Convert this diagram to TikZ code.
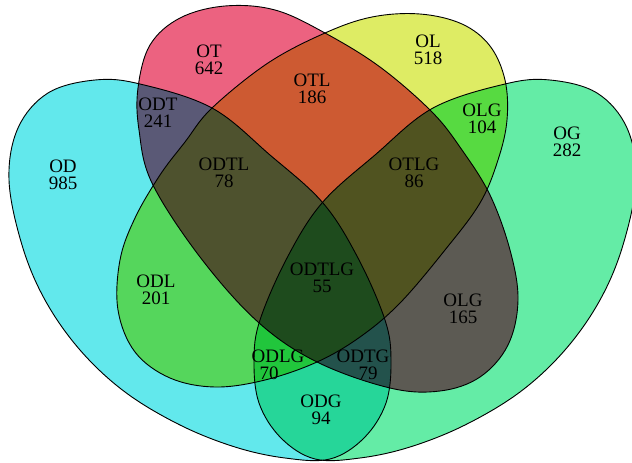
\documentclass[tikz,border=0pt]{standalone}
\usepackage{fontspec}
\setmainfont{Liberation Serif}
\definecolor{ODcol}{RGB}{98,232,236}
\definecolor{OTcol}{RGB}{236,98,128}
\definecolor{OLcol}{RGB}{222,236,100}
\definecolor{OGcol}{RGB}{100,236,166}
\tikzset{
  vshape/.style={draw=black, line width=0.9pt},
  lbl/.style={font=\fontsize{19}{17}\selectfont, align=center, inner sep=0pt, text=black}
}
\begin{document}
\begin{tikzpicture}[x=1pt,y=-1pt]
\useasboundingbox (0,0) rectangle (632,463);
\fill[white] (0,0) rectangle (632,463);
\clip (0,0) rectangle (632,463);
\begin{scope}[blend group=multiply]
% D (cyan)
\filldraw[vshape, fill=ODcol] plot[smooth cycle, tension=0.6] coordinates {
 (9,180) (18,128) (48,93) (95,80) (140,84) (212,108) (270,155) (323,203)
 (358,258) (385,320) (391,360) (386,403) (364,438) (330,459) (285,458) (235,447)
 (180,425) (125,392) (80,350) (45,300) (22,245)};
% G (mint)
\filldraw[vshape, fill=OGcol] plot[smooth cycle, tension=0.6] coordinates {
 (636,180) (627,128) (597,93) (550,80) (505,84) (433,108) (375,155) (322,203)
 (287,258) (260,320) (254,360) (259,403) (281,438) (315,459) (360,458) (410,447)
 (465,425) (520,392) (565,350) (600,300) (623,245)};
% T (pink)
\filldraw[vshape, fill=OTcol] plot[smooth cycle, tension=0.6] coordinates {
 (138,88) (150,45) (180,18) (225,6) (275,10) (325,33) (380,67) (432,112)
 (462,150) (490,195) (510,250) (518,300) (508,345) (480,377) (440,391) (390,388)
 (317,362) (258,322) (200,257) (152,183) (139,130)};
% L (yellow)
\filldraw[vshape, fill=OLcol] plot[smooth cycle, tension=0.6] coordinates {
 (325,33) (372,17) (420,14) (462,24) (490,46) (505,80) (507,120) (498,160)
 (480,203) (445,250) (400,303) (360,337) (317,362) (265,380) (215,387) (170,378)
 (135,352) (118,310) (120,260) (135,218) (160,175) (185,142) (212,108) (268,63)};
\end{scope}
\node[lbl] (ot) at (209,60) {OT\\642};
\node[lbl] (otl) at (312,89) {OTL\\186};
\node[lbl] (ol) at (428,50) {OL\\518};
\node[lbl] (odt) at (158,113) {ODT\\241};
\node[lbl] (olga) at (482,119) {OLG\\104};
\node[lbl] (od) at (63,175) {OD\\985};
\node[lbl] (odtl) at (224,173) {ODTL\\78};
\node[lbl] (otlg) at (414,173) {OTLG\\86};
\node[lbl] (og) at (567,142) {OG\\282};
\node[lbl] (odl) at (156,290) {ODL\\201};
\node[lbl] (odtlg) at (322,278) {ODTLG\\55};
\node[lbl] (olgb) at (463,309) {OLG\\165};
\node[lbl] (odg) at (321,410) {ODG\\94};
\node[lbl] (odlg) at (278,356) {ODLG};
\node[lbl] (odlgn) at (269,373) {70};
\node[lbl] (odtg) at (363,356) {ODTG};
\node[lbl] (odtgn) at (368,373) {79};
\end{tikzpicture}
\end{document}
